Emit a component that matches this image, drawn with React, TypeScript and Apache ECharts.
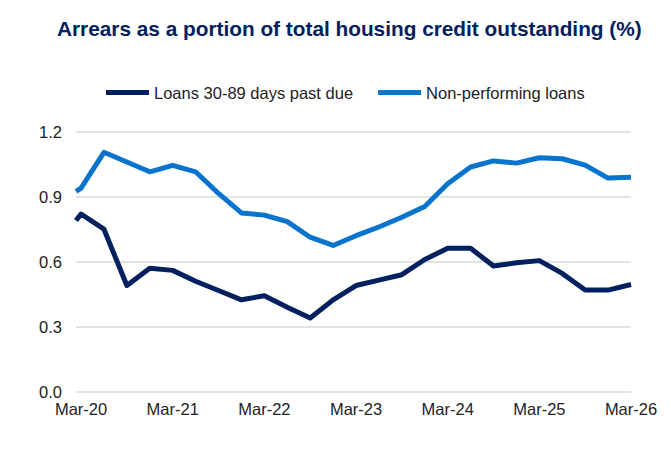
import React, { useEffect, useRef } from "react";
import * as echarts from "echarts";

// Quarter index relative to Mar-20 (0 = Mar-20, 24 = Mar-26)
const quarters = [-0.22, 0, 1, 2, 3, 4, 5, 6, 7, 8, 9, 10, 11, 12, 13, 14, 15, 16, 17, 18, 19, 20, 21, 22, 23, 24];

const loans30to89 = [0.79, 0.82, 0.75, 0.49, 0.57, 0.56, 0.51, 0.467, 0.424, 0.443, 0.39, 0.34, 0.424, 0.49, 0.515, 0.54, 0.61, 0.662, 0.662, 0.58, 0.595, 0.605, 0.546, 0.469, 0.469, 0.495];

const nonPerforming = [0.925, 0.94, 1.105, 1.06, 1.015, 1.045, 1.015, 0.915, 0.825, 0.815, 0.785, 0.713, 0.675, 0.72, 0.76, 0.805, 0.855, 0.96, 1.037, 1.065, 1.055, 1.08, 1.075, 1.046, 0.986, 0.99];

const xTickQuarters = [0, 4, 8, 12, 16, 20, 24];
const xTickLabels = ["Mar-20", "Mar-21", "Mar-22", "Mar-23", "Mar-24", "Mar-25", "Mar-26"];

const yTicks = [0, 0.3, 0.6, 0.9, 1.2];

const seriesNames = ["Loans 30-89 days past due", "Non-performing loans"];
const DARK = "#002060";
const LIGHT = "#0874CE";
const FONT = "'Liberation Sans', Arial, sans-serif";

export default function App() {
  const ref = useRef<HTMLDivElement>(null);

  useEffect(() => {
    if (!ref.current) return;
    const chart = echarts.init(ref.current, null, { renderer: "svg" });
    const pair = (ys: number[]) => quarters.map((q, i) => [q, ys[i]]);

    chart.setOption({
      animation: false,
      backgroundColor: "#ffffff",
      textStyle: { fontFamily: FONT },
      title: {
        text: "Arrears as a portion of total housing credit outstanding (%)",
        left: 52,
        top: 13,
        textStyle: { color: DARK, fontSize: 20.8, fontWeight: "bold", fontFamily: FONT },
      },
      legend: {
        top: 84,
        left: 106,
        padding: 0,
        icon: "rect",
        itemWidth: 43,
        itemHeight: 5,
        itemGap: 25,
        textStyle: { color: "#222", fontSize: 16.5, fontFamily: FONT },
        data: seriesNames,
      },
      grid: { left: 76, right: 40, top: 131.7, bottom: 74.3, containLabel: false },
      xAxis: {
        type: "value",
        min: "dataMin",
        max: "dataMax",
        axisLine: { show: false },
        axisTick: { show: false },
        splitLine: { show: false },
        axisLabel: {
          customValues: xTickQuarters,
          formatter: (v: number) => xTickLabels[xTickQuarters.indexOf(v)] ?? "",
          color: "#222",
          fontSize: 16.5,
          fontFamily: FONT,
          margin: 9,
        },
      },
      yAxis: {
        type: "value",
        min: yTicks[0],
        max: yTicks[yTicks.length - 1],
        interval: 0.3,
        axisLine: { show: false },
        axisTick: { show: false },
        splitLine: { lineStyle: { color: "#d9d9d9", width: 1.5 } },
        axisLabel: {
          formatter: (v: number) => v.toFixed(1),
          color: "#222",
          fontSize: 16.5,
          fontFamily: FONT,
          margin: 14,
        },
      },
      series: [
        {
          name: seriesNames[0],
          type: "line",
          data: pair(loans30to89),
          showSymbol: false,
          symbol: "none",
          color: DARK,
          lineStyle: { color: DARK, width: 5, join: "round", cap: "butt" },
        },
        {
          name: seriesNames[1],
          type: "line",
          data: pair(nonPerforming),
          showSymbol: false,
          symbol: "none",
          color: LIGHT,
          lineStyle: { color: LIGHT, width: 5, join: "round", cap: "butt" },
        },
      ],
    });

    return () => chart.dispose();
  }, []);

  return (
    <div
      ref={ref}
      style={{ position: "fixed", left: 0, top: 0, width: 671, height: 466, background: "#fff" }}
    />
  );
}
